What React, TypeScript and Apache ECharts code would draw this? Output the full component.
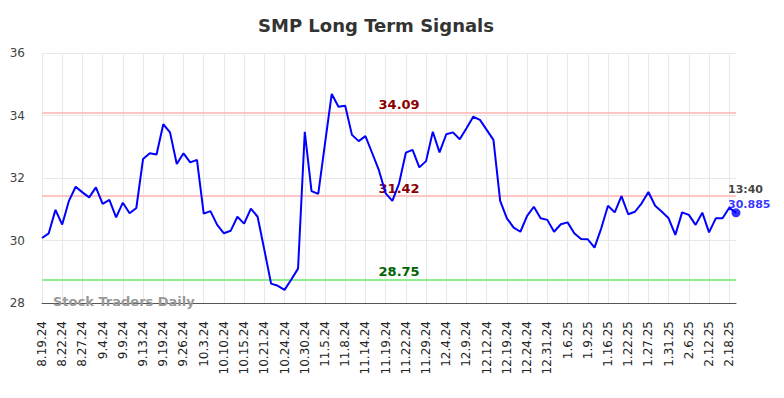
import React, { useEffect, useRef } from "react";
import * as echarts from "echarts";

const categories: string[] = [
  "8.19.24", "8.20.24", "8.21.24", "8.22.24", "8.23.24", "8.26.24", "8.27.24", "8.29.24", "9.3.24", "9.4.24",
  "9.5.24", "9.6.24", "9.9.24", "9.11.24", "9.12.24", "9.13.24", "9.17.24", "9.18.24", "9.19.24", "9.23.24",
  "9.25.24", "9.26.24", "9.30.24", "10.2.24", "10.3.24", "10.7.24", "10.9.24", "10.10.24", "10.11.24", "10.14.24",
  "10.15.24", "10.17.24", "10.18.24", "10.21.24", "10.22.24", "10.23.24", "10.24.24", "10.28.24", "10.29.24", "10.30.24",
  "11.1.24", "11.4.24", "11.5.24", "11.6.24", "11.7.24", "11.8.24", "11.12.24", "11.13.24", "11.14.24", "11.15.24",
  "11.18.24", "11.19.24", "11.20.24", "11.21.24", "11.22.24", "11.25.24", "11.27.24", "11.29.24", "12.2.24", "12.3.24",
  "12.4.24", "12.5.24", "12.6.24", "12.9.24", "12.10.24", "12.11.24", "12.12.24", "12.16.24", "12.18.24", "12.19.24",
  "12.20.24", "12.23.24", "12.24.24", "12.26.24", "12.30.24", "12.31.24", "1.2.25", "1.3.25", "1.6.25", "1.7.25",
  "1.8.25", "1.9.25", "1.13.25", "1.15.25", "1.16.25", "1.17.25", "1.21.25", "1.22.25", "1.23.25", "1.24.25",
  "1.27.25", "1.29.25", "1.30.25", "1.31.25", "2.3.25", "2.5.25", "2.6.25", "2.7.25", "2.11.25", "2.12.25",
  "2.13.25", "2.14.25", "2.18.25", "2.19.25",
];

const prices: number[] = [
  30.08, 30.23, 30.98, 30.51, 31.27, 31.72, 31.54, 31.38, 31.70, 31.17,
  31.30, 30.74, 31.21, 30.87, 31.04, 32.61, 32.79, 32.75, 33.72, 33.46,
  32.45, 32.79, 32.50, 32.58, 30.86, 30.94, 30.50, 30.23, 30.31, 30.76,
  30.54, 31.02, 30.76, 29.70, 28.62, 28.55, 28.42, 28.75, 29.10, 33.48,
  31.58, 31.49, 33.10, 34.69, 34.28, 34.31, 33.38, 33.18, 33.34, 32.80,
  32.25, 31.51, 31.27, 31.83, 32.81, 32.90, 32.34, 32.54, 33.48, 32.82,
  33.40, 33.46, 33.24, 33.59, 33.96, 33.86, 33.54, 33.22, 31.27, 30.71,
  30.41, 30.28, 30.79, 31.08, 30.71, 30.66, 30.28, 30.52, 30.58, 30.23,
  30.05, 30.04, 29.77, 30.39, 31.11, 30.90, 31.42, 30.84, 30.92, 31.19,
  31.55, 31.11, 30.92, 30.71, 30.18, 30.90, 30.82, 30.50, 30.89, 30.26,
  30.71, 30.71, 31.05, 30.885,
];

const upperLevel = 34.09;
const middleLevel = 31.42;
const lowerLevel = 28.75;
const lastTime = "13:40";
const lastPrice = 30.885;
const yTicks = [28, 30, 32, 34, 36];
const annotationIndex = 53;

export default function App() {
  const ref = useRef<HTMLDivElement>(null);

  useEffect(() => {
    if (!ref.current) return;
    const chart = echarts.init(ref.current, null, { renderer: "svg" });
    const lastCat = categories[categories.length - 1];
    const annCat = categories[annotationIndex];
    const levelLabel = (color: string) => ({
      show: true,
      position: "inside" as const,
      offset: [0, -8],
      color,
      fontSize: 13,
      fontWeight: "bold" as const,
      fontFamily: "DejaVu Sans",
    });
    chart.setOption({
      animation: false,
      textStyle: { fontFamily: "DejaVu Sans" },
      title: {
        text: "SMP Long Term Signals",
        left: 253,
        top: 11,
        textStyle: { fontSize: 18, fontWeight: "bold", color: "#333" },
      },
      grid: { left: 42, right: 48, top: 53, bottom: 95 },
      xAxis: {
        type: "category",
        data: categories,
        boundaryGap: false,
        axisLine: { lineStyle: { color: "#555", width: 1 } },
        axisTick: { show: false },
        axisLabel: {
          interval: 2,
          rotate: 90,
          margin: 18,
          fontSize: 12,
          color: "#222",
        },
        splitLine: { show: true, interval: 2, lineStyle: { color: "#e8e8e8", width: 1 } },
      },
      yAxis: {
        type: "value",
        min: yTicks[0],
        max: yTicks[yTicks.length - 1],
        interval: 2,
        axisLine: { show: false },
        axisTick: { show: false },
        axisLabel: { fontSize: 12, color: "#444", margin: 17 },
        splitLine: { show: true, lineStyle: { color: "#e8e8e8", width: 1 } },
      },
      series: [
        {
          type: "line",
          data: prices,
          symbol: "none",
          lineStyle: { color: "#0000ff", width: 2 },
          z: 5,
          markLine: {
            silent: true,
            symbol: "none",
            label: { show: false },
            data: [
              { yAxis: upperLevel, lineStyle: { color: "#ffc4c4", width: 2, type: "solid" } },
              { yAxis: middleLevel, lineStyle: { color: "#ffc4c4", width: 2, type: "solid" } },
              { yAxis: lowerLevel, lineStyle: { color: "#90ee90", width: 2, type: "solid" } },
            ],
          },
          markPoint: {
            silent: true,
            symbol: "circle",
            symbolSize: 0,
            data: [
              { coord: [annCat, upperLevel], value: upperLevel.toFixed(2), label: levelLabel("#8b0000") },
              { coord: [annCat, middleLevel], value: middleLevel.toFixed(2), label: levelLabel("#8b0000") },
              { coord: [annCat, lowerLevel], value: lowerLevel.toFixed(2), label: levelLabel("#006400") },
            ],
          },
        },
        {
          type: "scatter",
          data: [[lastCat, lastPrice]],
          symbol: "circle",
          symbolSize: 9,
          itemStyle: { color: "#0000ff" },
          z: 6,
          label: {
            show: true,
            position: [-3.5, -26],
            align: "left",
            verticalAlign: "top",
            formatter: () => `{t|${lastTime}}\n{v|${lastPrice}}`,
            rich: {
              t: { color: "#111", fontSize: 11, fontWeight: "bold", lineHeight: 15, fontFamily: "DejaVu Sans" },
              v: { color: "#0000ff", fontSize: 11, fontWeight: "bold", lineHeight: 15, fontFamily: "DejaVu Sans" },
            },
          },
        },
      ],
      graphic: [
        {
          type: "text",
          left: 53,
          top: 295,
          z: 10,
          style: {
            text: "Stock Traders Daily",
            fill: "#999",
            fontSize: 13,
            fontWeight: "bold",
            fontFamily: "DejaVu Sans",
          },
        },
      ],
    });
    return () => chart.dispose();
  }, []);

  return (
    <div
      ref={ref}
      style={{ position: "absolute", left: 0, top: 0, width: 784, height: 398 }}
    />
  );
}
